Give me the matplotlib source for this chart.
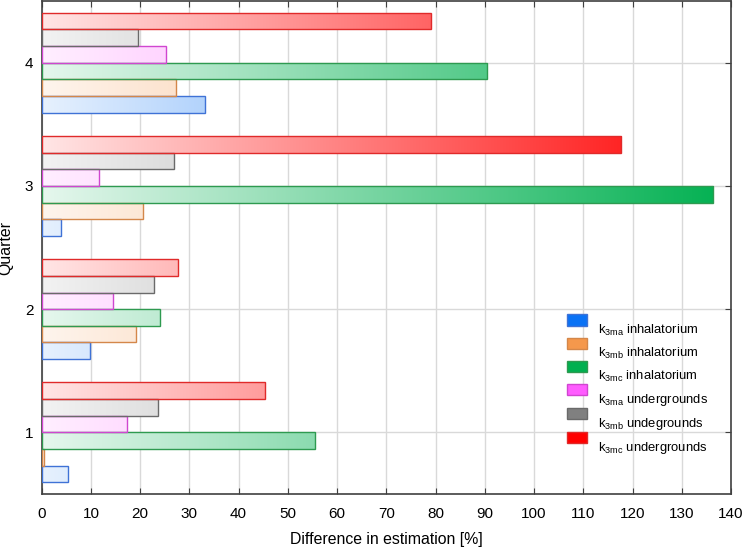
import numpy as np
import matplotlib
matplotlib.use('Agg')
import matplotlib.pyplot as plt
from matplotlib.colors import to_rgb
from matplotlib.patches import Patch, Rectangle
from matplotlib.legend_handler import HandlerPatch

plt.rcParams['font.family'] = ['Liberation Sans', 'DejaVu Sans']
plt.rcParams['mathtext.default'] = 'regular'

quarters = [1, 2, 3, 4]
series_labels = [r'k$_{3ma}$ inhalatorium', r'k$_{3mb}$ inhalatorium', r'k$_{3mc}$ inhalatorium',
                 r'k$_{3ma}$ undergrounds', r'k$_{3mb}$ undegrounds', r'k$_{3mc}$ undergrounds']
k3ma_inh = [5.3, 9.9, 4.0, 33.1]
k3mb_inh = [0.5, 19.1, 20.6, 27.3]
k3mc_inh = [55.5, 24.0, 136.3, 90.4]
k3ma_und = [17.3, 14.4, 11.6, 25.2]
k3mb_und = [23.6, 22.9, 26.8, 19.6]
k3mc_und = [45.3, 27.7, 117.7, 79.0]
values = [k3ma_inh, k3mb_inh, k3mc_inh, k3ma_und, k3mb_und, k3mc_und]

face_colors = ['#0a72f5', '#f5984c', '#00b050', '#ff5cff', '#808080', '#ff0000']
edge_colors = ['#3f72d6', '#d4874a', '#2e9a50', '#d046d0', '#6a6a6a', '#e02a2a']

x_max = 140
bar_h = 0.135

fig = plt.figure(figsize=(7.44, 5.48), dpi=100)
ax = fig.add_axes([0.056, 0.0985, 0.9265, 0.8995])

# gradient along the x axis: pale at 0, full colour at x_max
ramp = np.linspace(0.1, 1.0, 256)

for i, (vals, fc, ec) in enumerate(zip(values, face_colors, edge_colors)):
    offset = (i - 2.5) * bar_h
    bars = ax.barh(np.array(quarters) + offset, vals, height=bar_h,
                   facecolor='none', edgecolor=ec, linewidth=1.0, zorder=3)
    rgb = np.array(to_rgb(fc))
    grad = 1 - ramp[:, None] * (1 - rgb[None, :])
    img_data = grad[None, :, :]
    for b in bars:
        y0 = b.get_y()
        im = ax.imshow(img_data, extent=(0, x_max, y0, y0 + bar_h), aspect='auto',
                       interpolation='bilinear', zorder=2)
        im.set_clip_path(b)

ax.set_xlim(0, x_max)
ax.set_ylim(0.5, 4.5)
ax.set_xticks(np.arange(0, x_max + 1, 10))
ax.set_yticks(quarters)
ax.grid(True, color='#d9d9d9', linewidth=1.0, zorder=0)
ax.set_axisbelow(True)
ax.tick_params(direction='in', top=True, right=True, length=4, labelsize=11, color='#404040')
ax.tick_params(axis='x', pad=9)
ax.tick_params(axis='y', pad=6)
for s in ax.spines.values():
    s.set_color('#404040')
    s.set_linewidth(1.2)

ax.set_xlabel('Difference in estimation [%]', fontsize=11.4, labelpad=8)
ax.set_ylabel('Quarter', fontsize=11.4, labelpad=8)


# legend boxes sit a little above their text, as in the original
def raised_box(legend, orig_handle, xdescent, ydescent, width, height, fontsize):
    return Rectangle((-xdescent, -ydescent + 6.5), width, height)


handles = [Patch(facecolor=fc, edgecolor=ec, linewidth=1.0) for fc, ec in zip(face_colors, edge_colors)]
ax.legend(handles, series_labels, loc='upper left', bbox_to_anchor=(0.762, 0.348),
          frameon=False, fontsize=9.4, handlelength=1.55, handleheight=0.95,
          handletextpad=0.85, labelspacing=0.62, borderpad=0, borderaxespad=0,
          handler_map={Patch: HandlerPatch(patch_func=raised_box)})

fig.savefig('out.png', dpi=100)
